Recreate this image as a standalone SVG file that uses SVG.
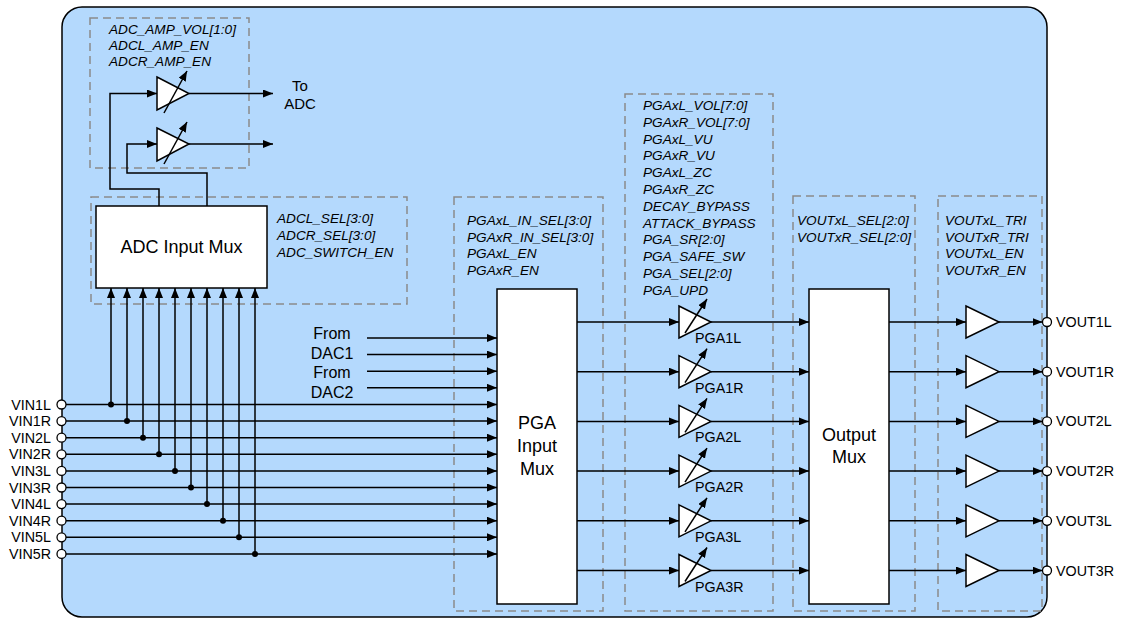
<svg xmlns="http://www.w3.org/2000/svg" width="1124" height="618" viewBox="0 0 1124 618">
<defs>
<marker id="ah" markerWidth="10" markerHeight="8" refX="10" refY="4" orient="auto" markerUnits="userSpaceOnUse"><path d="M0,0 L10,4 L0,8 z" fill="#000"/></marker>
<style>
.bg{fill:#b4d9fd;stroke:#000;stroke-width:1.5}
.dash{fill:none;stroke:#8a8a8a;stroke-width:1.5;stroke-dasharray:8 5}
.w{fill:#fff;stroke:#000;stroke-width:1.5}
.c{fill:none;stroke:#000;stroke-width:1.5;marker-end:url(#ah)}
.dot{fill:#000}
.pin{fill:#fff;stroke:#000;stroke-width:1.3}
.reg{font-family:"Liberation Sans",Arial,sans-serif;font-style:italic;font-size:13.6px;fill:#000}
.big{font-family:"Liberation Sans",Arial,sans-serif;font-size:18px;fill:#000;text-anchor:middle}
.lbl{font-family:"Liberation Sans",Arial,sans-serif;font-size:16px;fill:#000;text-anchor:middle}
.pl{font-family:"Liberation Sans",Arial,sans-serif;font-size:14.3px;fill:#000}
</style>
</defs>
<rect class="bg" x="62" y="7" width="985" height="610" rx="20"/>
<g id="dashed-regions">
<rect class="dash" x="90" y="18" width="159" height="150"/>
<rect class="dash" x="91" y="197" width="316" height="107"/>
<rect class="dash" x="454" y="197" width="149" height="414"/>
<rect class="dash" x="625" y="94" width="148" height="517"/>
<rect class="dash" x="793" y="196" width="122" height="415"/>
<rect class="dash" x="938" y="196" width="104" height="415"/>
</g>
<g id="connectors">
<path class="c" d="M159,206 V189 H110 V93.5 H157"/>
<path class="c" d="M207,206 V173 H127 V144 H157"/>
<path class="c" d="M189,93.5 H273"/>
<path class="c" d="M189,144 H273"/>
<path class="c" d="M111,404.5 V288"/>
<path class="c" d="M127,421.1 V288"/>
<path class="c" d="M143,437.7 V288"/>
<path class="c" d="M159,454.3 V288"/>
<path class="c" d="M175,470.9 V288"/>
<path class="c" d="M191,487.5 V288"/>
<path class="c" d="M207,504.1 V288"/>
<path class="c" d="M223,520.7 V288"/>
<path class="c" d="M239,537.3 V288"/>
<path class="c" d="M255,553.9 V288"/>
<path class="c" d="M66,404.5 H497"/>
<path class="c" d="M66,421.1 H497"/>
<path class="c" d="M66,437.7 H497"/>
<path class="c" d="M66,454.3 H497"/>
<path class="c" d="M66,470.9 H497"/>
<path class="c" d="M66,487.5 H497"/>
<path class="c" d="M66,504.1 H497"/>
<path class="c" d="M66,520.7 H497"/>
<path class="c" d="M66,537.3 H497"/>
<path class="c" d="M66,553.9 H497"/>
<path class="c" d="M367,338 H497"/>
<path class="c" d="M367,354.6 H497"/>
<path class="c" d="M367,371.2 H497"/>
<path class="c" d="M367,387.8 H497"/>
<path class="c" d="M577,322 H679"/>
<path class="c" d="M577,371.7 H679"/>
<path class="c" d="M577,421.4 H679"/>
<path class="c" d="M577,471.1 H679"/>
<path class="c" d="M577,520.8 H679"/>
<path class="c" d="M577,570.5 H679"/>
<path class="c" d="M711,322 H809"/>
<path class="c" d="M711,371.7 H809"/>
<path class="c" d="M711,421.4 H809"/>
<path class="c" d="M711,471.1 H809"/>
<path class="c" d="M711,520.8 H809"/>
<path class="c" d="M711,570.5 H809"/>
<path class="c" d="M889,322 H966"/>
<path class="c" d="M889,371.7 H966"/>
<path class="c" d="M889,421.4 H966"/>
<path class="c" d="M889,471.1 H966"/>
<path class="c" d="M889,520.8 H966"/>
<path class="c" d="M889,570.5 H966"/>
<path class="c" d="M999,322 H1042.5"/>
<path class="c" d="M999,371.7 H1042.5"/>
<path class="c" d="M999,421.4 H1042.5"/>
<path class="c" d="M999,471.1 H1042.5"/>
<path class="c" d="M999,520.8 H1042.5"/>
<path class="c" d="M999,570.5 H1042.5"/>
<circle class="dot" cx="111" cy="404.5" r="3"/>
<circle class="dot" cx="127" cy="421.1" r="3"/>
<circle class="dot" cx="143" cy="437.7" r="3"/>
<circle class="dot" cx="159" cy="454.3" r="3"/>
<circle class="dot" cx="175" cy="470.9" r="3"/>
<circle class="dot" cx="191" cy="487.5" r="3"/>
<circle class="dot" cx="207" cy="504.1" r="3"/>
<circle class="dot" cx="223" cy="520.7" r="3"/>
<circle class="dot" cx="239" cy="537.3" r="3"/>
<circle class="dot" cx="255" cy="553.9" r="3"/>
</g>
<g id="adc-amps">
<text class="reg" x="109" y="34">ADC_AMP_VOL[1:0]</text>
<text class="reg" x="109" y="50">ADCL_AMP_EN</text>
<text class="reg" x="109" y="66">ADCR_AMP_EN</text>
<polygon class="w" points="157,77 189,93.5 157,110"/>
<path class="c" d="M164,113 L187,71"/>
<polygon class="w" points="157,128 189,144 157,161"/>
<path class="c" d="M164,164 L187,122"/>
<text class="lbl" x="300" y="91" style="font-size:15px">To</text>
<text class="lbl" x="300" y="109" style="font-size:15px">ADC</text>
</g>
<g id="adc-input-mux">
<rect class="w" x="96" y="206" width="171" height="82"/>
<text class="big" x="181.5" y="253">ADC Input Mux</text>
<text class="reg" x="277" y="223">ADCL_SEL[3:0]</text>
<text class="reg" x="277" y="240">ADCR_SEL[3:0]</text>
<text class="reg" x="277" y="257">ADC_SWITCH_EN</text>
</g>
<g id="vin-pins">
<circle class="pin" cx="61.5" cy="404.5" r="4.5"/>
<circle class="pin" cx="61.5" cy="421.1" r="4.5"/>
<circle class="pin" cx="61.5" cy="437.7" r="4.5"/>
<circle class="pin" cx="61.5" cy="454.3" r="4.5"/>
<circle class="pin" cx="61.5" cy="470.9" r="4.5"/>
<circle class="pin" cx="61.5" cy="487.5" r="4.5"/>
<circle class="pin" cx="61.5" cy="504.1" r="4.5"/>
<circle class="pin" cx="61.5" cy="520.7" r="4.5"/>
<circle class="pin" cx="61.5" cy="537.3" r="4.5"/>
<circle class="pin" cx="61.5" cy="553.9" r="4.5"/>
<g class="pl" text-anchor="end">
<text x="51" y="409.5">VIN1L</text>
<text x="51" y="426.1">VIN1R</text>
<text x="51" y="442.7">VIN2L</text>
<text x="51" y="459.3">VIN2R</text>
<text x="51" y="475.9">VIN3L</text>
<text x="51" y="492.5">VIN3R</text>
<text x="51" y="509.1">VIN4L</text>
<text x="51" y="525.7">VIN4R</text>
<text x="51" y="542.3">VIN5L</text>
<text x="51" y="558.9">VIN5R</text>
</g>
</g>
<g id="dac-inputs">
<text class="lbl" x="332" y="339">From</text>
<text class="lbl" x="332" y="359">DAC1</text>
<text class="lbl" x="332" y="378">From</text>
<text class="lbl" x="332" y="398">DAC2</text>
</g>
<g id="pga-input-mux">
<rect class="w" x="497" y="289" width="80" height="315"/>
<text class="big" x="537" y="429">PGA</text>
<text class="big" x="537" y="452">Input</text>
<text class="big" x="537" y="475">Mux</text>
<text class="reg" x="467" y="225">PGAxL_IN_SEL[3:0]</text>
<text class="reg" x="467" y="242">PGAxR_IN_SEL[3:0]</text>
<text class="reg" x="467" y="258">PGAxL_EN</text>
<text class="reg" x="467" y="275">PGAxR_EN</text>
</g>
<g id="pga-registers">
<text class="reg" x="643" y="110">PGAxL_VOL[7:0]</text>
<text class="reg" x="643" y="126.8">PGAxR_VOL[7:0]</text>
<text class="reg" x="643" y="143.6">PGAxL_VU</text>
<text class="reg" x="643" y="160.4">PGAxR_VU</text>
<text class="reg" x="643" y="177.2">PGAxL_ZC</text>
<text class="reg" x="643" y="194">PGAxR_ZC</text>
<text class="reg" x="643" y="210.8">DECAY_BYPASS</text>
<text class="reg" x="643" y="227.6">ATTACK_BYPASS</text>
<text class="reg" x="643" y="244.4">PGA_SR[2:0]</text>
<text class="reg" x="643" y="261.2">PGA_SAFE_SW</text>
<text class="reg" x="643" y="278">PGA_SEL[2:0]</text>
<text class="reg" x="643" y="294.8">PGA_UPD</text>
</g>
<g id="pga1l"><polygon class="w" points="679,306 711,322 679,338"/><path class="c" d="M685,333 L707,299"/><text class="pl" x="695" y="343">PGA1L</text></g>
<g id="pga1r"><polygon class="w" points="679,355.7 711,371.7 679,387.7"/><path class="c" d="M685,382.7 L707,348.7"/><text class="pl" x="695" y="392.7">PGA1R</text></g>
<g id="pga2l"><polygon class="w" points="679,405.4 711,421.4 679,437.4"/><path class="c" d="M685,432.4 L707,398.4"/><text class="pl" x="695" y="442.4">PGA2L</text></g>
<g id="pga2r"><polygon class="w" points="679,455.1 711,471.1 679,487.1"/><path class="c" d="M685,482.1 L707,448.1"/><text class="pl" x="695" y="492.1">PGA2R</text></g>
<g id="pga3l"><polygon class="w" points="679,504.8 711,520.8 679,536.8"/><path class="c" d="M685,531.8 L707,497.8"/><text class="pl" x="695" y="541.8">PGA3L</text></g>
<g id="pga3r"><polygon class="w" points="679,554.5 711,570.5 679,586.5"/><path class="c" d="M685,581.5 L707,547.5"/><text class="pl" x="695" y="591.5">PGA3R</text></g>
<g id="output-mux">
<rect class="w" x="809" y="289" width="80" height="315"/>
<text class="big" x="849" y="441">Output</text>
<text class="big" x="849" y="463">Mux</text>
<text class="reg" x="797" y="225">VOUTxL_SEL[2:0]</text>
<text class="reg" x="797" y="242">VOUTxR_SEL[2:0]</text>
</g>
<g id="output-buffers">
<text class="reg" x="945" y="225">VOUTxL_TRI</text>
<text class="reg" x="945" y="242">VOUTxR_TRI</text>
<text class="reg" x="945" y="258">VOUTxL_EN</text>
<text class="reg" x="945" y="275">VOUTxR_EN</text>
<polygon class="w" points="966,306 999,322 966,338"/>
<polygon class="w" points="966,355.7 999,371.7 966,387.7"/>
<polygon class="w" points="966,405.4 999,421.4 966,437.4"/>
<polygon class="w" points="966,455.1 999,471.1 966,487.1"/>
<polygon class="w" points="966,504.8 999,520.8 966,536.8"/>
<polygon class="w" points="966,554.5 999,570.5 966,586.5"/>
</g>
<g id="vout-pins">
<circle class="pin" cx="1047" cy="322" r="4.5"/>
<circle class="pin" cx="1047" cy="371.7" r="4.5"/>
<circle class="pin" cx="1047" cy="421.4" r="4.5"/>
<circle class="pin" cx="1047" cy="471.1" r="4.5"/>
<circle class="pin" cx="1047" cy="520.8" r="4.5"/>
<circle class="pin" cx="1047" cy="570.5" r="4.5"/>
<text class="pl" x="1056" y="327">VOUT1L</text>
<text class="pl" x="1056" y="376.7">VOUT1R</text>
<text class="pl" x="1056" y="426.4">VOUT2L</text>
<text class="pl" x="1056" y="476.1">VOUT2R</text>
<text class="pl" x="1056" y="525.8">VOUT3L</text>
<text class="pl" x="1056" y="575.5">VOUT3R</text>
</g>
</svg>
